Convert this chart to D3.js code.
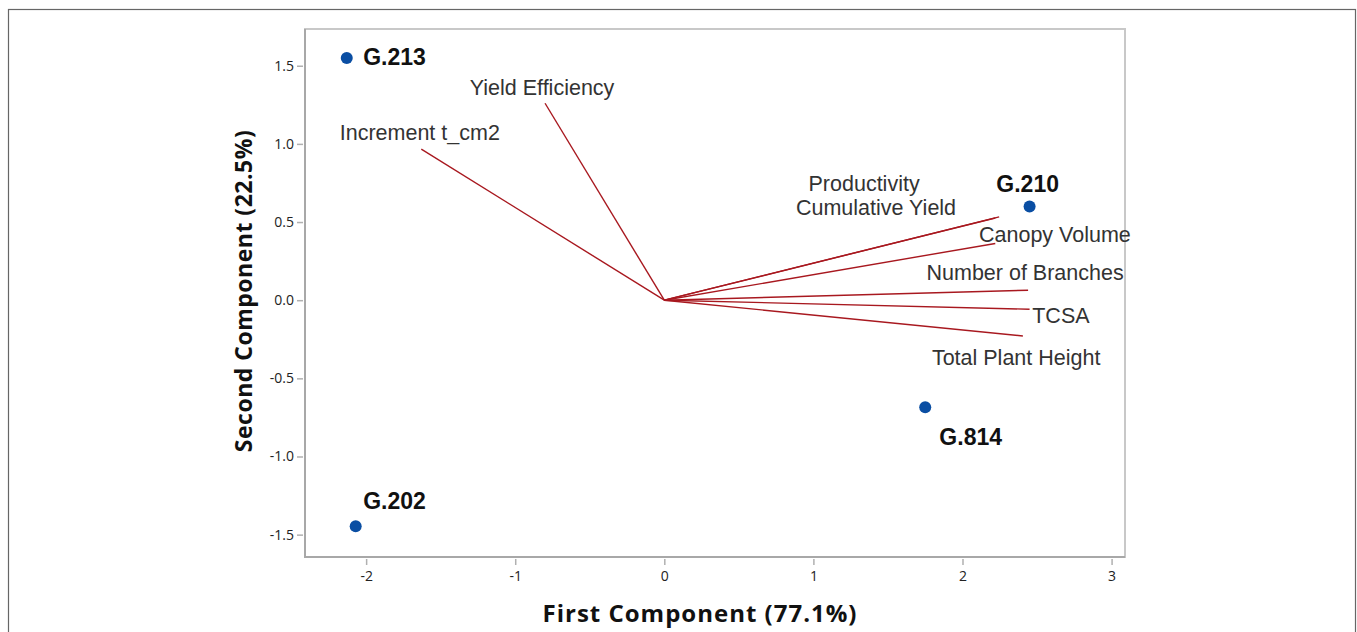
<!DOCTYPE html>
<html>
<head>
<meta charset="utf-8">
<script src="https://cdn.jsdelivr.net/npm/d3@7"></script>
<style>
  html, body { margin: 0; padding: 0; background: #fff; }
  svg { display: block; }
</style>
</head>
<body>
<svg id="chart" width="1357" height="632"></svg>
<script>
// ---- data ----
const xTicks = [-2, -1, 0, 1, 2, 3];
const yTicks = [-1.5, -1.0, -0.5, 0.0, 0.5, 1.0, 1.5];

const scoreNames = ["G.213", "G.202", "G.210", "G.814"];
const scoreX = [-2.13, -2.07, 2.45, 1.75];
const scoreY = [1.55, -1.447, 0.60, -0.685];
// label anchor (data units, label centre)
const scoreLabelX = [-1.81, -1.81, 2.437, 2.055];
const scoreLabelY = [1.555, -1.285, 0.745, -0.875];

const loadingNames = ["Yield Efficiency", "Increment t_cm2", "Productivity", "Cumulative Yield",
                      "Canopy Volume", "Number of Branches", "TCSA", "Total Plant Height"];
const loadingX = [-0.80, -1.63, 2.246, 2.22, 2.22, 2.44, 2.45, 2.405];
const loadingY = [1.26, 0.967, 0.533, 0.526, 0.363, 0.064, -0.058, -0.229];
// label anchor (data units, label centre)
const loadingLabelX = [-0.82, -1.64, 1.34, 1.42, 2.62, 2.42, 2.66, 2.36];
const loadingLabelY = [1.357, 1.07, 0.746, 0.587, 0.416, 0.173, -0.10, -0.37];

const xTitle = "First Component (77.1%)";
const yTitle = "Second Component (22.5%)";

// ---- layout ----
const svg = d3.select("#chart");
const plot = { left: 305, right: 1125, top: 29, bottom: 557 };

const x = d3.scaleLinear().domain([-2.41, 3.09]).range([plot.left, plot.right]);
const y = d3.scaleLinear().domain([-1.643, 1.735]).range([plot.bottom, plot.top]);

// outer frame
svg.append("rect")
  .attr("x", 8.5).attr("y", 9.5).attr("width", 1347).attr("height", 640)
  .attr("fill", "none").attr("stroke", "#666").attr("stroke-width", 1.2);

// plot frame
svg.append("rect")
  .attr("x", plot.left).attr("y", plot.top)
  .attr("width", plot.right - plot.left).attr("height", plot.bottom - plot.top)
  .attr("fill", "#fff").attr("stroke", "#c8c8c8").attr("stroke-width", 2);
svg.append("path")
  .attr("d", `M${plot.left},${plot.top}V${plot.bottom}H${plot.right}`)
  .attr("fill", "none").attr("stroke", "#a8a8a8").attr("stroke-width", 2);

// axes
const fontTick = "'Open Sans', 'DejaVu Sans', sans-serif";
const hyphen = f => d => f(d).replace("\u2212", "-");
const xAxis = d3.axisBottom(x).tickValues(xTicks).tickFormat(hyphen(d3.format("d"))).tickSize(6).tickPadding(6);
const yAxis = d3.axisLeft(y).tickValues(yTicks).tickFormat(hyphen(d3.format(".1f"))).tickSize(6).tickPadding(3);

const gx = svg.append("g").attr("transform", `translate(0,${plot.bottom + 2})`).call(xAxis);
const gy = svg.append("g").attr("transform", `translate(${plot.left - 2},0)`).call(yAxis);
[gx, gy].forEach(g => {
  g.select(".domain").remove();
  g.selectAll(".tick line").attr("stroke", "#b0b0b0").attr("stroke-width", 1.5);
  g.selectAll(".tick text").attr("fill", "#222").attr("font-size", "14px").attr("font-family", fontTick);
});

// loading vectors
const loadings = loadingNames.map((n, i) => ({
  name: n, x: loadingX[i], y: loadingY[i], lx: loadingLabelX[i], ly: loadingLabelY[i]
}));
svg.append("g").selectAll("line").data(loadings).join("line")
  .attr("x1", x(0)).attr("y1", y(0))
  .attr("x2", d => x(d.x)).attr("y2", d => y(d.y))
  .attr("stroke", "#a8181f").attr("stroke-width", 1.4);

svg.append("g").selectAll("text").data(loadings).join("text")
  .attr("x", d => x(d.lx)).attr("y", d => y(d.ly))
  .attr("text-anchor", "middle").attr("dominant-baseline", "central")
  .attr("font-family", "'Liberation Sans', Arial, sans-serif")
  .attr("font-size", "21.5px").attr("fill", "#333")
  .text(d => d.name);

// scores
const scores = scoreNames.map((n, i) => ({
  name: n, x: scoreX[i], y: scoreY[i], lx: scoreLabelX[i], ly: scoreLabelY[i]
}));
svg.append("g").selectAll("circle").data(scores).join("circle")
  .attr("cx", d => x(d.x)).attr("cy", d => y(d.y)).attr("r", 6)
  .attr("fill", "#0a4ea3");

svg.append("g").selectAll("text").data(scores).join("text")
  .attr("x", d => x(d.lx)).attr("y", d => y(d.ly))
  .attr("text-anchor", "middle").attr("dominant-baseline", "central")
  .attr("font-family", "'Liberation Sans', Arial, sans-serif")
  .attr("font-size", "23px").attr("font-weight", "bold").attr("fill", "#111")
  .text(d => d.name);

// axis titles
const fontTitle = "'Open Sans', 'DejaVu Sans', sans-serif";
svg.append("text")
  .attr("x", 700).attr("y", 612)
  .attr("text-anchor", "middle").attr("dominant-baseline", "central")
  .attr("font-family", fontTitle).attr("font-weight", "bold").attr("font-size", "24px")
  .attr("letter-spacing", "1px")
  .attr("fill", "#111").text(xTitle);

svg.append("text")
  .attr("transform", `translate(243,291) rotate(-90)`)
  .attr("text-anchor", "middle").attr("dominant-baseline", "central")
  .attr("font-family", fontTitle).attr("font-weight", "bold").attr("font-size", "23px")
  .attr("letter-spacing", "0.5px")
  .attr("fill", "#111").text(yTitle);
</script>
</body>
</html>
